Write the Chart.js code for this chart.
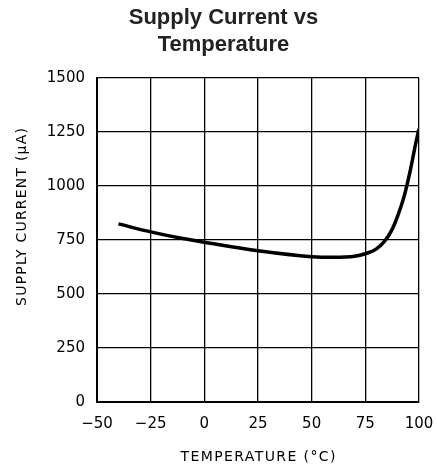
<!DOCTYPE html>
<html><head><meta charset="utf-8">
<script src="https://cdn.jsdelivr.net/npm/chart.js@4"></script>
<style>html,body{margin:0;padding:0;background:#fff}#wrap{width:437px;height:471px}</style>
</head><body><div id="wrap"><canvas id="c" width="437" height="471"></canvas></div>
<script>
const titleLines = ['Supply Current vs', 'Temperature'];
const xTitle = 'TEMPERATURE (°C)';
const yTitle = 'SUPPLY CURRENT (μA)';
const temps = [-40, -25, -10, 0, 25, 50, 60, 70, 76, 80, 84, 87, 90, 93, 96, 98, 100];
const current = [825, 788, 757, 740, 700, 673, 670, 675, 690, 708, 745, 790, 860, 950, 1075, 1175, 1265];
const xTicks = [-50, -25, 0, 25, 50, 75, 100];
const yTicks = [0, 250, 500, 750, 1000, 1250, 1500];

const TFONT = 'Liberation Sans, Arial, sans-serif';
const FONT = 'DejaVu Sans, sans-serif';

function spacedText(ctx, text, cx, cy, sp) {
  ctx.letterSpacing = sp + 'px';
  const w = ctx.measureText(text).width - sp;
  ctx.textAlign = 'left';
  ctx.textBaseline = 'middle';
  ctx.fillText(text, cx - w / 2, cy);
}

const axisTitles = {
  id: 'axisTitles',
  afterDraw(chart) {
    const ctx = chart.ctx, a = chart.chartArea;
    ctx.save();
    ctx.fillStyle = '#000';
    ctx.font = '14px ' + FONT;
    spacedText(ctx, xTitle, (a.left + a.right) / 2, 457, 1.4);
    ctx.translate(22, 217);
    ctx.rotate(-Math.PI / 2);
    spacedText(ctx, yTitle, 0, 0, 1.2);
    ctx.restore();
  }
};

new Chart(document.getElementById('c'), {
  type: 'scatter',
  data: { datasets: [{
    data: temps.map((t, i) => ({x: t, y: current[i]})),
    showLine: true, borderColor: '#000', borderWidth: 3.5, pointRadius: 0,
    cubicInterpolationMode: 'monotone', fill: false
  }]},
  plugins: [axisTitles],
  options: {
    responsive: false, animation: false, devicePixelRatio: 1,
    layout: { padding: { left: 28, right: 18, top: 0, bottom: 0 } },
    plugins: {
      legend: { display: false }, tooltip: { enabled: false },
      title: { display: true, text: titleLines, color: '#222',
        font: { family: TFONT, size: 22, weight: 'bold', lineHeight: 1.23 },
        padding: { top: 4.5, bottom: 19.5 } }
    },
    scales: {
      x: { type: 'linear', min: -50, max: 100,
        afterBuildTicks: s => { s.ticks = xTicks.map(v => ({value: v})); },
        afterFit: s => { s.height = 69; s.paddingLeft = 0; s.paddingRight = 0; },
        grid: { color: '#000', lineWidth: 1.3, drawTicks: false },
        border: { color: '#000', width: 2 },
        ticks: { color: '#000', padding: 13, font: { family: FONT, size: 15 }, maxRotation: 0,
          callback: v => (v < 0 ? '\u2212' + Math.abs(v) : String(v)) },
        title: { display: false }
      },
      y: { type: 'linear', min: 0, max: 1500,
        afterBuildTicks: s => { s.ticks = yTicks.map(v => ({value: v})); },
        afterFit: s => { s.width = 69; s.paddingTop = 0; s.paddingBottom = 0; },
        grid: { color: '#000', lineWidth: 1.3, drawTicks: false },
        border: { color: '#000', width: 2 },
        ticks: { color: '#000', padding: 12, font: { family: FONT, size: 15 }, callback: v => String(v) },
        title: { display: false }
      }
    }
  }
});
</script></body></html>
